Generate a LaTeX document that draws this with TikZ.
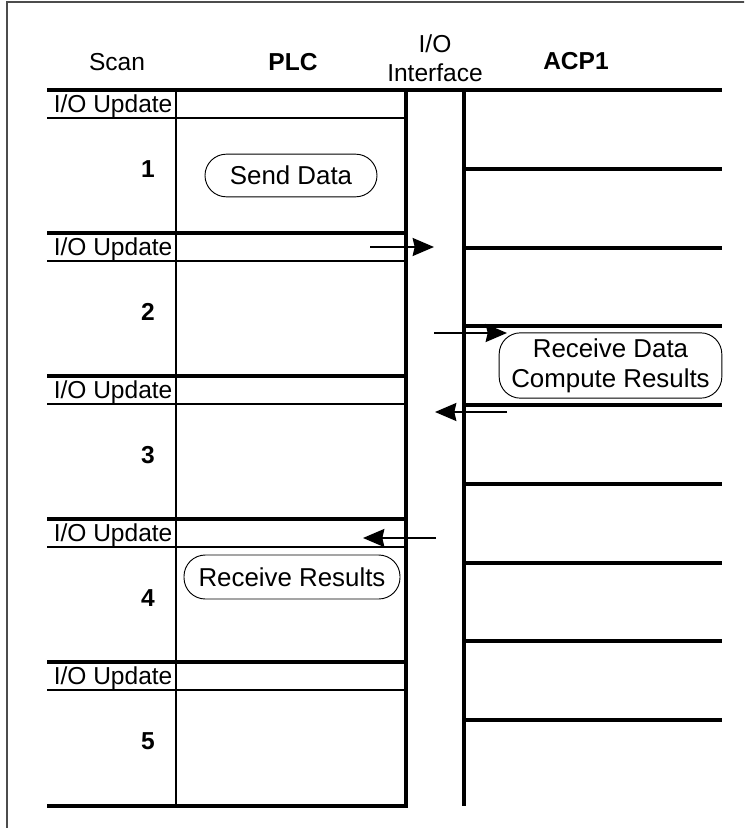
\documentclass[tikz,border=0pt]{standalone}
\usepackage{fontspec}
\setmainfont{Liberation Sans}
\usetikzlibrary{arrows.meta}

\newcommand{\diagfont}{\fontsize{18.4pt}{22pt}\selectfont}

\tikzset{
    heavy/.style={line width=3pt},
    light/.style={line width=0.9pt},
    task/.style={draw, line width=0.7pt, rounded corners=16pt, align=center, inner sep=0pt,
        font=\fontsize{19.4pt}{22.5pt}\selectfont},
    update/.style={anchor=base east, inner sep=1pt},
    scanno/.style={anchor=base, font=\diagfont\bfseries},
    msg/.style={line width=1.5pt, -{Stealth[length=16pt, width=13.5pt, inset=1.5pt]}}
}

\begin{document}
\begin{tikzpicture}[x=0.75pt, y=-0.75pt, nodes={font=\diagfont}]
    \useasboundingbox (0,0) rectangle (744,828);
    \clip (0,0) rectangle (744,828);
    \draw[gray!60!black, line width=1.5pt] (7,2) rectangle (780,860);

    \node[anchor=base] (scan) at (117,70) {Scan};
    \node[anchor=base, font=\diagfont\bfseries] (plc) at (293,70) {PLC};
    \node[align=center] (io) at (435,58) {I/O\\Interface};
    \node[anchor=base, font=\diagfont\bfseries] (acp) at (576,69) {ACP1};

    % PLC side
    \draw[heavy] (47,90) -- (722,90);
    \draw[heavy] (47,233) -- (406,233);
    \draw[heavy] (47,376) -- (406,376);
    \draw[heavy] (47,519) -- (406,519);
    \draw[heavy] (47,662) -- (406,662);
    \draw[heavy] (406,90) |- (47,806);

    \draw[light] (47,118) -- (406,118);
    \draw[light] (47,261) -- (406,261);
    \draw[light] (47,404) -- (406,404);
    \draw[light] (47,547) -- (406,547);
    \draw[light] (47,690) -- (406,690);
    \draw[light] (176,90) -- (176,806);

    % ACP1 side
    \draw[heavy] (464,90) -- (464,806);
    \draw[heavy] (464,168.75) -- (722,168.75);
    \draw[heavy] (464,247.5) -- (722,247.5);
    \draw[heavy] (464,326.25) -- (722,326.25);
    \draw[heavy] (464,405) -- (722,405);
    \draw[heavy] (464,483.75) -- (722,483.75);
    \draw[heavy] (464,562.5) -- (722,562.5);
    \draw[heavy] (464,641.25) -- (722,641.25);
    \draw[heavy] (464,720) -- (722,720);

    \node[update] (u1) at (174,112) {I/O Update};
    \node[update] (u2) at (174,255) {I/O Update};
    \node[update] (u3) at (174,398) {I/O Update};
    \node[update] (u4) at (174,541) {I/O Update};
    \node[update] (u5) at (174,684) {I/O Update};

    \node[scanno] (n1) at (148,177) {1};
    \node[scanno] (n2) at (148,320) {2};
    \node[scanno] (n3) at (148,463) {3};
    \node[scanno] (n4) at (148,606) {4};
    \node[scanno] (n5) at (148,749) {5};

    \node[task, minimum width=129pt, minimum height=32pt] (send) at (291,175.5) {Send Data};
    \node[task, minimum width=167pt, minimum height=49pt] (recv) at (610.5,365.5) {Receive Data\\Compute Results};
    \node[task, minimum width=162pt, minimum height=33pt] (res) at (292,577) {Receive Results};

    \coordinate (a1) at (370,247);
    \coordinate (b1) at (434,247);
    \coordinate (a2) at (434,333);
    \coordinate (b2) at (507,333);
    \coordinate (a3) at (507,412);
    \coordinate (b3) at (435,412);
    \coordinate (a4) at (436,538);
    \coordinate (b4) at (363,538);

    \path[msg]
        (a1) edge (b1)
        (a2) edge (b2)
        (a3) edge (b3)
        (a4) edge (b4)
        ;
\end{tikzpicture}
\end{document}
